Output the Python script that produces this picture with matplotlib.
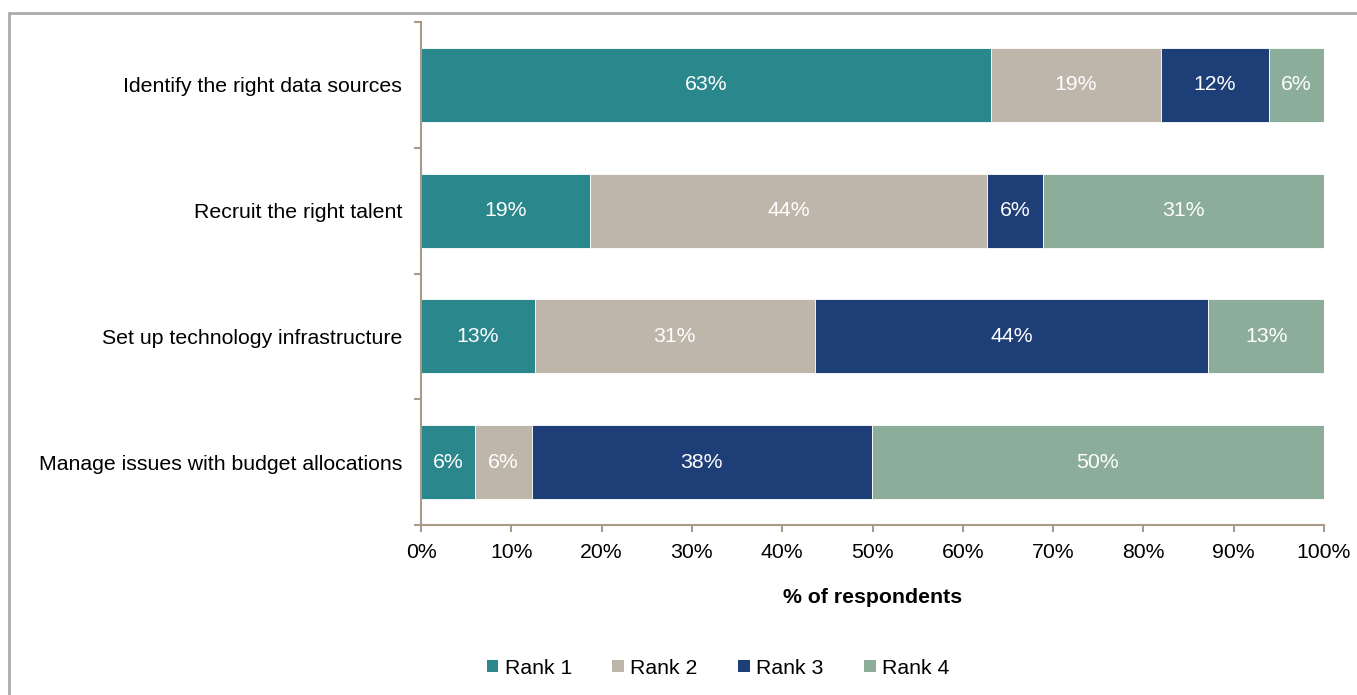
import matplotlib
matplotlib.use("Agg")
import matplotlib.pyplot as plt
from matplotlib.patches import Rectangle, Patch
import numpy as np

plt.rcParams['font.family'] = ['Liberation Sans', 'DejaVu Sans']

categories = ["Identify the right data sources", "Recruit the right talent",
              "Set up technology infrastructure", "Manage issues with budget allocations"]
series_names = ["Rank 1", "Rank 2", "Rank 3", "Rank 4"]
rank1 = [63.1, 18.7, 12.6, 6.0]
rank2 = [18.8, 44.0, 31.0, 6.3]
rank3 = [12.0, 6.2, 43.6, 37.6]
rank4 = [6.1, 31.1, 12.8, 50.1]
colors = ["#2A878C", "#BEB6AA", "#1D3E76", "#8BAD9A"]
xticks = [0, 10, 20, 30, 40, 50, 60, 70, 80, 90, 100]

W, H = 1357, 695
fig = plt.figure(figsize=(W / 100, H / 100), dpi=100)
ax = fig.add_axes([421 / W, 1 - 525 / H, (1324 - 421) / W, (525 - 22) / H])

# outer border
fig.patches.append(Rectangle((9 / W, -0.05), 1.2, 1 - 13 / H + 0.05, transform=fig.transFigure,
                             fill=False, edgecolor="#ABABAB", linewidth=2, zorder=0))

fs = 15.3
y = np.arange(len(categories))
left = np.zeros(len(categories))
for name, vals, c in zip(series_names, [rank1, rank2, rank3, rank4], colors):
    vals = np.array(vals)
    ax.barh(y, vals, left=left, height=0.59, color=c, edgecolor="white", linewidth=0.6, label=name)
    for yi, l, v in zip(y, left, vals):
        ax.text(l + v / 2, yi, f"{round(v):.0f}%", ha="center", va="center", color="white", fontsize=fs)
    left += vals

ax.set_xlim(0, 100)
ax.set_ylim(len(categories) - 0.5, -0.5)
spine_c = "#A99B89"
for s in ["top", "right"]:
    ax.spines[s].set_visible(False)
for s in ["left", "bottom"]:
    ax.spines[s].set_color(spine_c)
    ax.spines[s].set_linewidth(1.5)

ax.set_xticks(xticks)
ax.set_xticklabels([f"{t}%" for t in xticks], fontsize=fs)
ax.set_yticks(y)
ax.set_yticklabels(categories, fontsize=fs)
ax.set_yticks(np.arange(-0.5, len(categories)), minor=True)
ax.tick_params(axis="y", which="major", length=0, pad=13.5)
ax.tick_params(axis="y", which="minor", length=5, width=1.5, color=spine_c)
ax.tick_params(axis="x", which="major", length=5, width=1.5, color=spine_c, pad=8)
ax.set_xlabel("% of respondents", fontsize=fs, fontweight="bold", labelpad=19)

handles = [Patch(facecolor=c, edgecolor="none") for c in colors]
fig.legend(handles, series_names, loc="center", bbox_to_anchor=(718 / W, 1 - 668 / H), ncol=4,
           frameon=False, fontsize=fs, handlelength=0.55, handleheight=0.55, handletextpad=0.3,
           columnspacing=1.9)

fig.savefig("out.png", dpi=100)
